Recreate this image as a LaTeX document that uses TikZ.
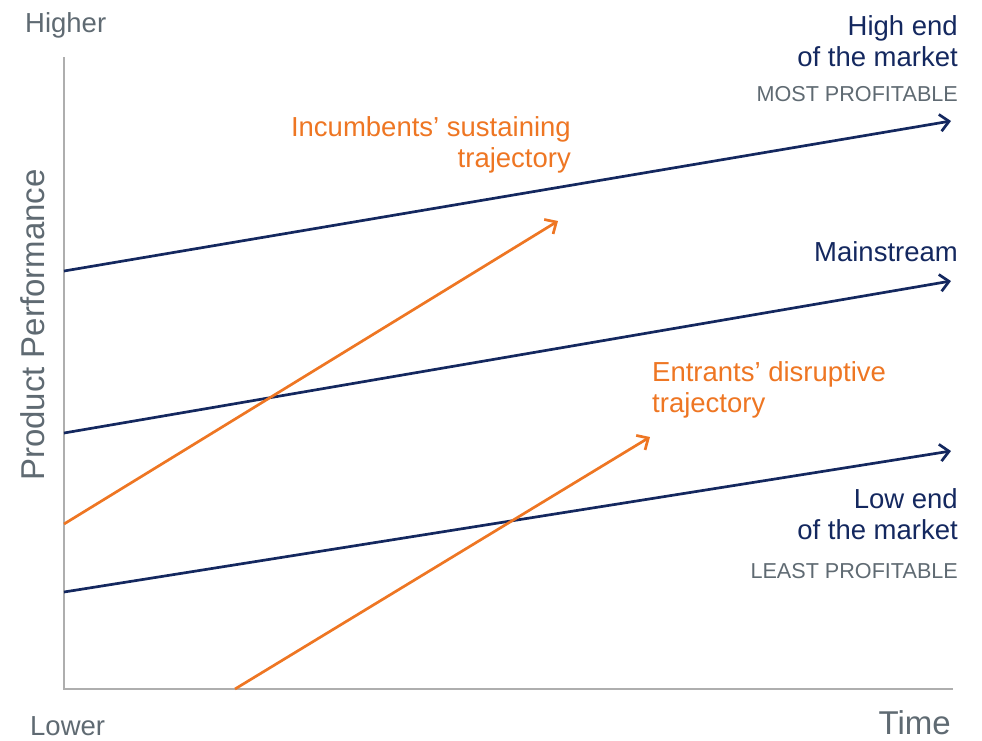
\documentclass[tikz,border=0pt]{standalone}
\usepackage{fontspec}
\setmainfont{Liberation Sans}
\usetikzlibrary{arrows.meta}
\definecolor{navy}{HTML}{14285F}
\definecolor{amber}{HTML}{EE7623}
\definecolor{slate}{HTML}{5F6A72}
\definecolor{axisgray}{HTML}{AEAEAE}
\begin{document}
\begin{tikzpicture}[x=1pt,y=-1pt,
  axisline/.style={draw=axisgray,line width=1.4pt},
  market/.style={draw=navy,line width=2.7pt,-{Straight Barb[length=9pt,width=17pt,line width=2.7pt]}},
  traj/.style={draw=amber,line width=2.7pt,-{Straight Barb[length=9pt,width=17pt,line width=2.7pt]}},
  navytext/.style={text=navy,font=\fontsize{27.5}{32}\selectfont,inner sep=0pt},
  ambertext/.style={text=amber,font=\fontsize{27.5}{32}\selectfont,inner sep=0pt},
  graytext/.style={text=slate,font=\fontsize{27.5}{32}\selectfont,inner sep=0pt,text depth=0pt},
  tagtext/.style={text=slate,font=\fontsize{21.6}{26}\selectfont,inner sep=0pt},
  bigtext/.style={text=slate,font=\fontsize{33}{39}\selectfont,inner sep=0pt}]
\useasboundingbox (0,0) rectangle (982,740);

% axes
\coordinate (ytop) at (64,57);
\coordinate (origin) at (64,689);
\coordinate (xend) at (953,689);
\draw[axisline] (ytop) -- (origin) -- (xend);

% market trajectories
\coordinate (hs) at (64,271);  \coordinate (he) at (951,121);
\coordinate (ms) at (64,433);  \coordinate (me) at (951,281);
\coordinate (ls) at (64,592);  \coordinate (le) at (951,451);
\draw[market] (hs) -- (he);
\draw[market] (ms) -- (me);
\draw[market] (ls) -- (le);

% technology trajectories
\coordinate (is) at (64,524);  \coordinate (ie) at (558,221);
\coordinate (es) at (235,689); \coordinate (ee) at (650,437);
\draw[traj] (is) -- (ie);
\draw[traj] (es) -- (ee);

% axis labels
\node[graytext,anchor=base west] (higher) at (25,32) {Higher};
\node[graytext,anchor=base west] (lower) at (30,735) {Lower};
\node[bigtext,anchor=base east] (time) at (951,734) {Time};
\node[bigtext,rotate=90] (perf) at (33,325) {Product Performance};

% market labels
\node[navytext,anchor=base east] (high1) at (958,35) {High end};
\node[navytext,anchor=base east] (high2) at (958,66) {of the market};
\node[tagtext,anchor=base east] (most) at (958,101) {MOST PROFITABLE};
\node[navytext,anchor=base east] (main) at (958,261) {Mainstream};
\node[navytext,anchor=base east] (low1) at (958,508) {Low end};
\node[navytext,anchor=base east] (low2) at (958,539) {of the market};
\node[tagtext,anchor=base east] (least) at (958,578) {LEAST PROFITABLE};

% trajectory labels
\node[ambertext,anchor=base east] (inc1) at (571,136) {Incumbents’ sustaining};
\node[ambertext,anchor=base east] (inc2) at (571,167) {trajectory};
\node[ambertext,anchor=base west] (ent1) at (652,381) {Entrants’ disruptive};
\node[ambertext,anchor=base west] (ent2) at (652,412) {trajectory};
\end{tikzpicture}
\end{document}
